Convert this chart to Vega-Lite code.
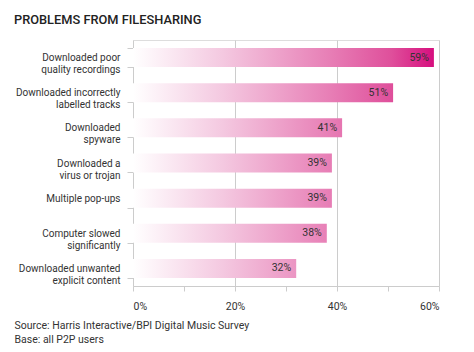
{
  "$schema": "https://vega.github.io/schema/vega-lite/v6.json",
  "autosize": {"type": "none"},
  "width": 306,
  "height": 246,
  "padding": {"left": 133, "top": 40, "right": 35, "bottom": 66},
  "background": "white",
  "title": {
    "text": "PROBLEMS FROM FILESHARING",
    "anchor": "start",
    "frame": "group",
    "dx": -119,
    "offset": -2,
    "baseline": "alphabetic",
    "font": "Roboto",
    "fontSize": 12.8,
    "fontWeight": 500,
    "color": "#222"
  },
  "config": {
    "view": {"stroke": "#dddddd"},
    "font": "Roboto",
    "axis": {"labelFont": "Roboto", "titleFont": "Roboto"}
  },
  "data": {
    "values": [
      {"label": "Downloaded poor|quality recordings", "v": 0.59},
      {"label": "Downloaded incorrectly|labelled tracks", "v": 0.51},
      {"label": "Downloaded |spyware", "v": 0.41},
      {"label": "Downloaded a|virus or trojan", "v": 0.39},
      {"label": "Multiple pop-ups", "v": 0.39},
      {"label": "Computer slowed|significantly", "v": 0.38},
      {"label": "Downloaded unwanted|explicit content", "v": 0.32}
    ]
  },
  "encoding": {
    "y": {
      "field": "label",
      "type": "nominal",
      "sort": null,
      "scale": {"paddingInner": 0.46, "paddingOuter": 0.23},
      "axis": {
        "title": null,
        "labelExpr": "split(datum.label, '|')",
        "labelFontSize": 10,
        "labelColor": "#333",
        "labelLineHeight": 12,
        "labelPadding": 7,
        "tickBand": "extent",
        "tickSize": 6,
        "tickColor": "#cccccc",
        "domainColor": "#cccccc",
        "grid": false
      }
    },
    "x": {
      "field": "v",
      "type": "quantitative",
      "scale": {"domain": [0, 0.6], "nice": false},
      "axis": {
        "values": [0, 0.1, 0.2, 0.3, 0.4, 0.5, 0.6],
        "labelExpr": "round(datum.value * 100) % 20 == 0 ? format(datum.value, '.0%') : ''",
        "labelFontSize": 10.5,
        "labelColor": "#333",
        "labelPadding": 10,
        "tickSize": 5,
        "tickColor": "#cccccc",
        "domainColor": "#cccccc",
        "grid": true,
        "gridColor": "#cccccc",
        "gridOpacity": {"condition": {"test": "round(datum.value * 100) % 20 == 0 && datum.value > 0", "value": 1}, "value": 0},
        "title": ["Source: Harris Interactive/BPI Digital Music Survey", "Base: all P2P users"],
        "titleFontSize": 10.5,
        "titleFontWeight": "normal",
        "titleColor": "#333",
        "titleX": -119,
        "titleY": 34,
        "titleAlign": "left",
        "titleAnchor": "start",
        "titleBaseline": "top",
        "titleLineHeight": 14
      }
    }
  },
  "layer": [
    {
      "mark": {"type": "bar"},
      "encoding": {
        "fill": {
          "condition": [
            {"test": "datum.v == 0.59", "value": {"gradient": "linear", "x1": 0, "x2": 1, "y1": 0, "y2": 0, "stops": [{"offset": 0, "color": "#ffffff"}, {"offset": 0.3, "color": "#f4c8e0"}, {"offset": 0.66, "color": "#e77db5"}, {"offset": 0.86, "color": "#df4f9b"}, {"offset": 1, "color": "#d60f7e"}]}},
            {"test": "datum.v == 0.51", "value": {"gradient": "linear", "x1": 0, "x2": 1.157, "y1": 0, "y2": 0, "stops": [{"offset": 0, "color": "#ffffff"}, {"offset": 0.3, "color": "#f4c8e0"}, {"offset": 0.66, "color": "#e77db5"}, {"offset": 0.86, "color": "#df4f9b"}, {"offset": 1, "color": "#d60f7e"}]}},
            {"test": "datum.v == 0.41", "value": {"gradient": "linear", "x1": 0, "x2": 1.439, "y1": 0, "y2": 0, "stops": [{"offset": 0, "color": "#ffffff"}, {"offset": 0.3, "color": "#f4c8e0"}, {"offset": 0.66, "color": "#e77db5"}, {"offset": 0.86, "color": "#df4f9b"}, {"offset": 1, "color": "#d60f7e"}]}},
            {"test": "datum.v == 0.39", "value": {"gradient": "linear", "x1": 0, "x2": 1.513, "y1": 0, "y2": 0, "stops": [{"offset": 0, "color": "#ffffff"}, {"offset": 0.3, "color": "#f4c8e0"}, {"offset": 0.66, "color": "#e77db5"}, {"offset": 0.86, "color": "#df4f9b"}, {"offset": 1, "color": "#d60f7e"}]}},
            {"test": "datum.v == 0.38", "value": {"gradient": "linear", "x1": 0, "x2": 1.553, "y1": 0, "y2": 0, "stops": [{"offset": 0, "color": "#ffffff"}, {"offset": 0.3, "color": "#f4c8e0"}, {"offset": 0.66, "color": "#e77db5"}, {"offset": 0.86, "color": "#df4f9b"}, {"offset": 1, "color": "#d60f7e"}]}}
          ],
          "value": {"gradient": "linear", "x1": 0, "x2": 1.844, "y1": 0, "y2": 0, "stops": [{"offset": 0, "color": "#ffffff"}, {"offset": 0.3, "color": "#f4c8e0"}, {"offset": 0.66, "color": "#e77db5"}, {"offset": 0.86, "color": "#df4f9b"}, {"offset": 1, "color": "#d60f7e"}]}
        }
      }
    },
    {
      "mark": {"type": "text", "align": "right", "dx": -5, "fontSize": 10.5, "color": "#333", "font": "Roboto"},
      "encoding": {
        "text": {"field": "v", "type": "quantitative", "format": ".0%"}
      }
    }
  ]
}
